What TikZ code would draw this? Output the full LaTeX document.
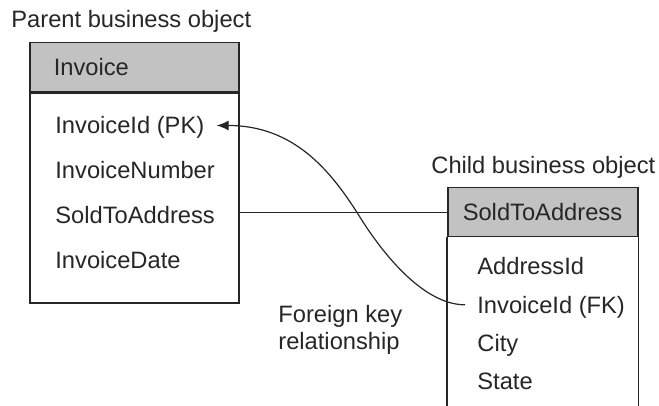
\documentclass[tikz,border=0pt]{standalone}
\usepackage{fontspec}
\setmainfont{Liberation Sans}
\usetikzlibrary{arrows.meta,positioning}
\definecolor{hdrgray}{gray}{0.76}
\definecolor{inkgray}{gray}{0.15}

\begin{document}
\begin{tikzpicture}[
      x=0.5pt, y=-0.5pt,
      every node/.style={
        font=\fontsize{11.85pt}{13.5pt}\selectfont,
        text=inkgray
      },
      hdr/.style={
        draw=inkgray,
        fill=hdrgray,
        line width=0.75pt,
        anchor=north west,
        minimum height=24.5pt,
        align=left,
        text height=8.5pt,
        text depth=0pt
      },
      body/.style={
        draw=inkgray,
        line width=0.75pt,
        anchor=north,
        inner sep=0pt
      },
      field/.style={
        inner xsep=6pt,
        inner ysep=0pt,
        text height=8.5pt,
        text depth=0pt
      },
      caption/.style={inner sep=0pt, anchor=base west, align=left},
      link/.style={draw=inkgray, line width=0.6pt},
      fklink/.style={link, -{Latex[length=6pt,width=5pt]}}
    ]
    \useasboundingbox (0,0) rectangle (659,406);

    % Parent business object
    \node[caption] (ptitle) at (11,28) {Parent business object};
    \node[hdr, inner xsep=12pt, text width=80.5pt] (phead) at (29,42) {Invoice};
    \node[body, minimum width=104.5pt, minimum height=105pt] (pbody) at (phead.south) {};

    \node[field, anchor=base west] (pkid) at (43,134) {InvoiceId (PK)};
    \node[field, below right=13.5pt and 0pt of pkid.south west] (pnum) {InvoiceNumber};
    \node[field, below right=13.5pt and 0pt of pnum.south west] (psold) {SoldToAddress};
    \node[field, below right=13.5pt and 0pt of psold.south west] (pdate) {InvoiceDate};

    % Child business object (box runs off the bottom)
    \node[caption] (ctitle) at (431,174) {Child business object};
    \node[hdr, inner xsep=7.5pt, text width=80pt] (chead) at (447,187) {SoldToAddress};
    \draw[link, line width=0.75pt] (chead.south west) -- ++(0,170)
                                   (chead.south east) -- ++(0,170);

    \node[field, anchor=base west] (caddr) at (465,275) {AddressId};
    \node[field, below right=10.25pt and 0pt of caddr.south west] (fkid) {InvoiceId (FK)};
    \node[field, below right=10.25pt and 0pt of fkid.south west] (ccity) {City};
    \node[field, below right=10.25pt and 0pt of ccity.south west] (cstate) {State};

    % Relationship label (base = last line)
    \node[caption] (fklabel) at (278,350) {Foreign key\\relationship};

    % Connectors
    \coordinate (bend) at (358,214);
    \draw[link] (pbody.east |- chead.west) -- (chead.west);
    \draw[fklink] (fkid.west) .. controls +(-43,0) and +(22,36) .. (bend)
                  .. controls +(-28,-44) and +(77,0) .. (pkid.east);

    \end{tikzpicture}
\end{document}
